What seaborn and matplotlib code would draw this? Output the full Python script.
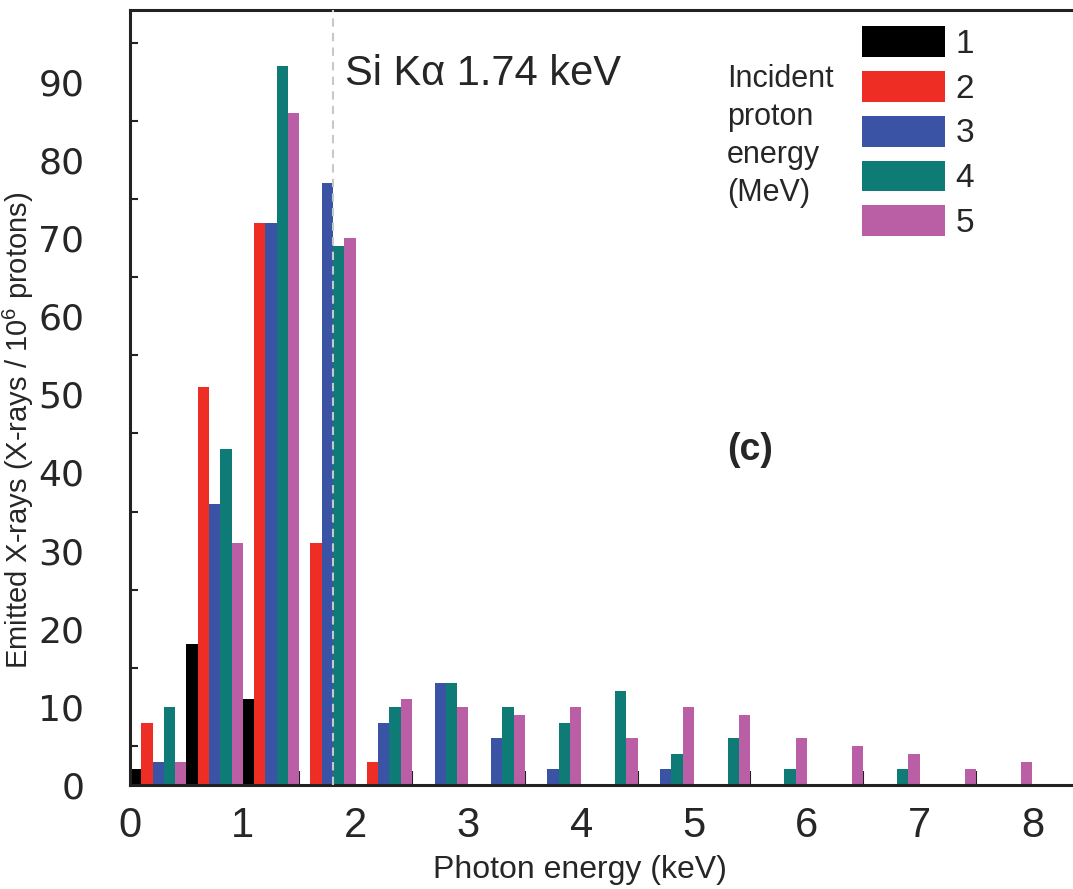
import pandas as pd
import matplotlib.pyplot as plt
import seaborn as sns

# 0.5 keV photon energy bins (bin centres, keV)
bin_centers = [0.25, 0.75, 1.25, 1.75, 2.25, 2.75, 3.25, 3.75,
               4.25, 4.75, 5.25, 5.75, 6.25, 6.75, 7.25, 7.75]
proton_energies = ['1', '2', '3', '4', '5']

# emitted X-rays per 10^6 protons, one list per incident proton energy (MeV)
xrays_1mev = [2, 18, 11, 0, 0, 0, 0, 0, 0, 0, 0, 0, 0, 0, 0, 0]
xrays_2mev = [8, 51, 72, 31, 3, 0, 0, 0, 0, 0, 0, 0, 0, 0, 0, 0]
xrays_3mev = [3, 36, 72, 77, 8, 13, 6, 2, 0, 2, 0, 0, 0, 0, 0, 0]
xrays_4mev = [10, 43, 92, 69, 10, 13, 10, 8, 12, 4, 6, 2, 0, 2, 0, 0]
xrays_5mev = [3, 31, 86, 70, 11, 10, 9, 10, 6, 10, 9, 6, 5, 4, 2, 3]

colors = ['#000000', '#EE2E24', '#3A53A4', '#0F7B76', '#BA5EA6']
si_line = 1.8  # Si K-alpha marker as drawn
x_ticks = [0, 1, 2, 3, 4, 5, 6, 7, 8]
y_ticks = [0, 10, 20, 30, 40, 50, 60, 70, 80, 90]

series = [xrays_1mev, xrays_2mev, xrays_3mev, xrays_4mev, xrays_5mev]
rows = []
for e, vals in zip(proton_energies, series):
    for x, v in zip(bin_centers, vals):
        rows.append({'energy': x, 'counts': v, 'proton': e})
df = pd.DataFrame(rows)

sns.set_theme(style='white')
plt.rcParams['font.family'] = ['Liberation Sans', 'DejaVu Sans']
plt.rcParams['mathtext.fontset'] = 'custom'
plt.rcParams['mathtext.rm'] = 'Liberation Sans'

fig = plt.figure(figsize=(10.73, 8.89), dpi=100)
ax = fig.add_axes([130 / 1073, 1 - 785 / 889, 1 - 130 / 1073, (785 - 10) / 889])

sns.barplot(data=df, x='energy', y='counts', hue='proton', hue_order=proton_energies,
            palette=colors, native_scale=True, width=1.0, dodge=True,
            errorbar=None, linewidth=0, saturation=1, ax=ax)

ax.axvline(si_line, color='#c8c8c8', linestyle=(0, (4, 3)), linewidth=1.5, zorder=3)

ax.set_xlim(0, 8.36)
ax.set_ylim(0, 99.2)
ax.set_xticks(x_ticks)
ax.set_xticks([0.5 + i for i in range(8)], minor=True)
ax.set_yticks(y_ticks)
ax.set_yticks([5 + 10 * i for i in range(10)], minor=True)
ax.set_xticklabels([str(t) for t in x_ticks], fontsize=30)
ax.set_yticklabels([str(t) for t in y_ticks], fontsize=26, family='DejaVu Sans')
ax.tick_params(axis='x', which='both', direction='in', length=10, width=1.5,
               color='#222222', pad=15)
ax.tick_params(axis='y', which='major', direction='in', length=11, width=1.5,
               color='#222222', pad=33)
ax.tick_params(axis='y', which='minor', direction='in', length=6, width=1.5,
               color='#222222')
ax.tick_params(which='minor', left=True, bottom=True)

for side in ['left', 'top', 'bottom']:
    ax.spines[side].set_linewidth(2.2)
    ax.spines[side].set_color('#222222')
ax.spines['right'].set_visible(False)

ax.set_xlabel('Photon energy (keV)', fontsize=23)
ax.set_ylabel(r'Emitted X-rays (X-rays / 10$^6$ protons)', fontsize=21)
ax.xaxis.set_label_coords((580 - 130) / 943, -0.09)
ax.yaxis.set_label_coords(-0.0995, 0.457)

ax.text(1.907, 91.0, 'Si K\u03b1 1.74 keV', fontsize=30, ha='left', va='center')
ax.text(5.5, 42.9, '(c)', fontsize=27, fontweight='bold', ha='center', va='center')

# legend: colour boxes with energy labels, title set to the left
old = ax.get_legend()
handles = old.legend_handles
labels = [t.get_text() for t in old.texts]
old.remove()
ax.legend(handles, labels, loc='upper left', bbox_to_anchor=(862 / 1073, 1 - 26 / 889),
          bbox_transform=fig.transFigure, frameon=False, fontsize=24,
          handlelength=2.5, handleheight=1.05, handletextpad=0.3,
          labelspacing=0.33, borderpad=0, borderaxespad=0)

title_lines = ['Incident', 'proton', 'energy', '(MeV)']
for i, line in enumerate(title_lines):
    fig.text(727 / 1073, 1 - (87 + 38 * i) / 889, line, fontsize=22,
             ha='left', va='baseline')

fig.savefig('out.png', dpi=100)
